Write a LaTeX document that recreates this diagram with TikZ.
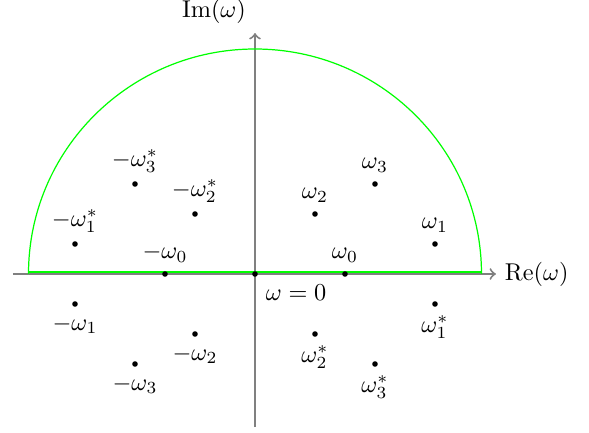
\documentclass[tikz,border=0pt]{standalone}
\usetikzlibrary{arrows}
\begin{document}
\begin{tikzpicture}[x=0.434cm,y=0.434cm,
  axis/.style={draw=gray,thick,->},
  contour/.style={draw=green,line width=0.5pt},
  dot/.style={circle,fill=black,inner sep=0pt,minimum size=2.3pt}]
\useasboundingbox (-8.5,-5.267) rectangle (11.133,9.133);
% axes
\coordinate (xl) at (-8.07,0);
\coordinate (xr) at (8.03,0);
\coordinate (yb) at (0,-5.1);
\coordinate (yt) at (0,8.03);
\draw[axis] (xl) -- (xr) node[right] (re) {$\mathrm{Re}(\omega)$};
\draw[axis] (yb) -- (yt) node[above left] (im) {$\mathrm{Im}(\omega)$};
% contour
\coordinate (cr) at (7.55,0.07);
\coordinate (cl) at (-7.55,0.07);
\draw[contour] (cl) -- (cr);
\draw[contour] (7.55,0) arc[start angle=0,end angle=180,x radius=7.55,y radius=7.5];
% points
\node[dot,label={[name=lo]below right:$\omega=0$}] (o) at (0,0) {};
\node[dot,label={[name=l0]above:$\omega_0$}] (w0) at (3,0) {};
\node[dot,label={[name=lm0]above:$-\omega_0$}] (mw0) at (-3,0) {};
\node[dot,label={[name=l1]above:$\omega_1$}] (w1) at (6,1) {};
\node[dot,label={[name=l1s]below:$\omega_1^*$}] (w1s) at (6,-1) {};
\node[dot,label={[name=lm1]below:$-\omega_1$}] (mw1) at (-6,-1) {};
\node[dot,label={[name=lm1s]above:$-\omega_1^*$}] (mw1s) at (-6,1) {};
\node[dot,label={[name=l2]above:$\omega_2$}] (w2) at (2,2) {};
\node[dot,label={[name=l2s]below:$\omega_2^*$}] (w2s) at (2,-2) {};
\node[dot,label={[name=lm2]below:$-\omega_2$}] (mw2) at (-2,-2) {};
\node[dot,label={[name=lm2s]above:$-\omega_2^*$}] (mw2s) at (-2,2) {};
\node[dot,label={[name=l3]above:$\omega_3$}] (w3) at (4,3) {};
\node[dot,label={[name=l3s]below:$\omega_3^*$}] (w3s) at (4,-3) {};
\node[dot,label={[name=lm3]below:$-\omega_3$}] (mw3) at (-4,-3) {};
\node[dot,label={[name=lm3s]above:$-\omega_3^*$}] (mw3s) at (-4,3) {};
\end{tikzpicture}
\end{document}
